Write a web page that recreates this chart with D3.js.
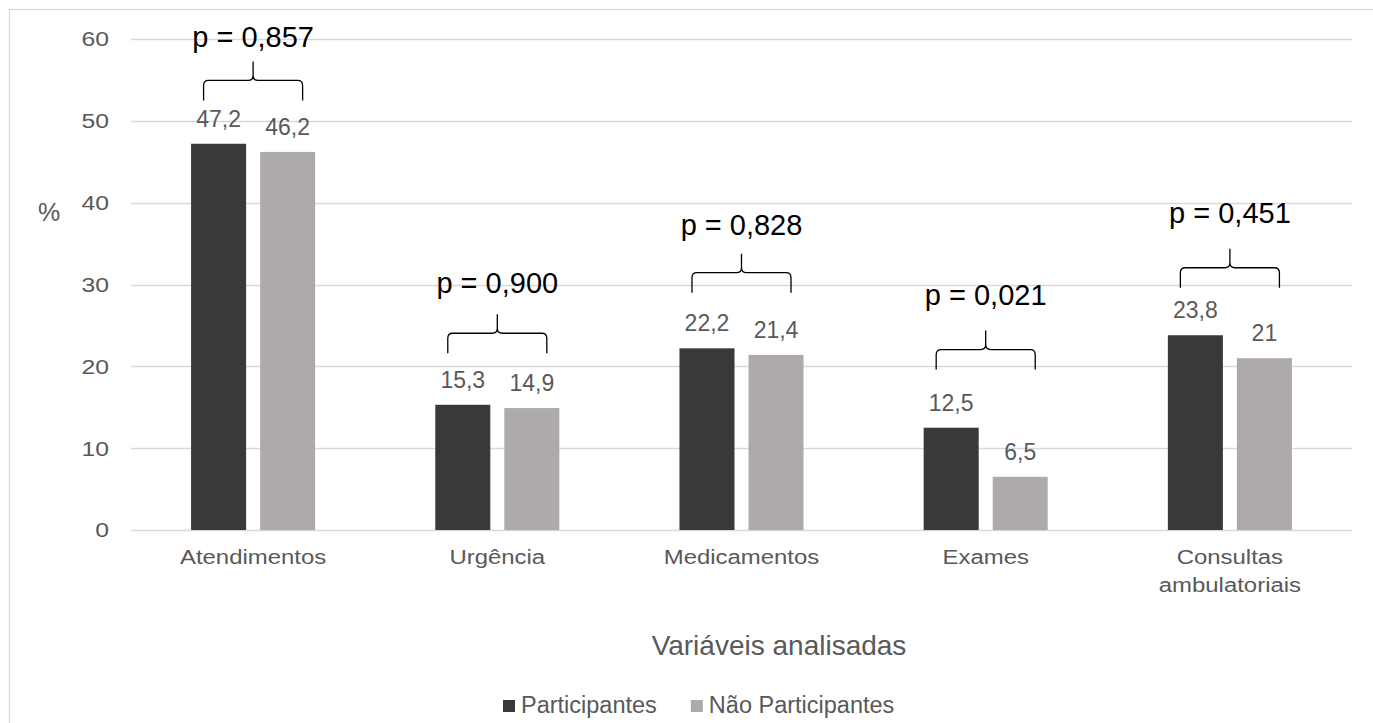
<!DOCTYPE html>
<html>
<head>
<meta charset="utf-8">
<script src="https://cdn.jsdelivr.net/npm/d3@7"></script>
<style>
  body { margin: 0; background: #fff; }
  svg { display: block; font-family: Arial, "Liberation Sans", sans-serif; }
</style>
</head>
<body>
<div id="chart"></div>
<script>
// data
const categories = ['Atendimentos', 'Urgência', 'Medicamentos', 'Exames', 'Consultas ambulatoriais'];
const categoryLines = [['Atendimentos'], ['Urgência'], ['Medicamentos'], ['Exames'], ['Consultas', 'ambulatoriais']];
const seriesNames = ['Participantes', 'Não Participantes'];
const participantes = [47.2, 15.3, 22.2, 12.5, 23.8];
const naoParticipantes = [46.2, 14.9, 21.4, 6.5, 21];
const pValues = ['p = 0,857', 'p = 0,900', 'p = 0,828', 'p = 0,021', 'p = 0,451'];
// brace foot level and p-label baseline level, in % units
const braceLevels = [52.5, 21.6, 29.0, 19.6, 29.6];
const pLabelLevels = [59.0, 29.0, 36.0, 27.5, 37.5];
const yTicks = [0, 10, 20, 30, 40, 50, 60];

const width = 1373, height = 723;
const plot = { left: 131, right: 1352, top: 39, bottom: 530 };
const colors = ['#3a3838', '#aeaaaa'];
const textColor = '#595959';
const gridColor = '#d9d9d9';

const svg = d3.select('#chart').append('svg')
  .attr('width', width)
  .attr('height', height);

// outer chart border (runs off right/bottom edge)
svg.append('rect')
  .attr('x', 9.5).attr('y', 9.5)
  .attr('width', 1420).attr('height', 800)
  .attr('fill', 'none').attr('stroke', gridColor).attr('stroke-width', 1.3);

const x = d3.scaleBand().domain(categories).range([plot.left, plot.right]);
const xInner = d3.scaleBand().domain(seriesNames).range([0, x.bandwidth()])
  .paddingInner(0.203).paddingOuter(0.87);
const y = d3.scaleLinear().domain([0, 60]).range([plot.bottom, plot.top]);

// gridlines
svg.append('g')
  .selectAll('line')
  .data(yTicks)
  .join('line')
  .attr('x1', plot.left).attr('x2', plot.right)
  .attr('y1', d => Math.round(y(d)) + 0.5).attr('y2', d => Math.round(y(d)) + 0.5)
  .attr('stroke', gridColor).attr('stroke-width', 1.5);

// y tick labels (slightly wide glyphs in the reference)
svg.append('g')
  .selectAll('text')
  .data(yTicks)
  .join('text')
  .attr('transform', d => `translate(${plot.left - 22},${y(d)}) scale(1.18,1)`)
  .attr('dy', '0.35em')
  .attr('text-anchor', 'end')
  .attr('font-size', 21)
  .attr('fill', textColor)
  .text(d => d);

svg.append('text')
  .attr('x', 49).attr('y', 221)
  .attr('text-anchor', 'middle')
  .attr('font-size', 25)
  .attr('fill', textColor)
  .text('%');

// bars
const rows = categories.map((c, i) => ({
  category: c,
  values: [participantes[i], naoParticipantes[i]]
}));

const groups = svg.append('g').selectAll('g')
  .data(rows)
  .join('g')
  .attr('transform', d => `translate(${x(d.category)},0)`);

groups.selectAll('rect')
  .data(d => d.values.map((v, j) => ({ series: seriesNames[j], value: v, j })))
  .join('rect')
  .attr('x', d => xInner(d.series))
  .attr('y', d => y(d.value))
  .attr('width', xInner.bandwidth())
  .attr('height', d => y(0) - y(d.value))
  .attr('fill', d => colors[d.j]);

groups.selectAll('text.val')
  .data(d => d.values.map((v, j) => ({ series: seriesNames[j], value: v })))
  .join('text')
  .attr('class', 'val')
  .attr('x', d => xInner(d.series) + xInner.bandwidth() / 2)
  .attr('y', d => y(d.value) - 17)
  .attr('text-anchor', 'middle')
  .attr('font-size', 23)
  .attr('fill', textColor)
  .text(d => String(d.value).replace('.', ','));

// category labels
svg.append('g').selectAll('g')
  .data(categories)
  .join('g')
  .each(function (c, i) {
    const g = d3.select(this);
    categoryLines[i].forEach((line, k) => {
      g.append('text')
        .attr('transform', `translate(${x(c) + x.bandwidth() / 2},${564 + k * 28}) scale(1.14,1)`)
        .attr('text-anchor', 'middle')
        .attr('font-size', 21)
        .attr('fill', textColor)
        .text(line);
    });
  });

// braces with p-values
function bracePath(xl, xr, yb, yt, ytip) {
  const r = 5;
  const xm = (xl + xr) / 2;
  return `M${xl},${yb} V${yt + r} Q${xl},${yt} ${xl + r},${yt} H${xm - r} Q${xm},${yt} ${xm},${yt - r} V${ytip}` +
    ` M${xm},${yt - r} Q${xm},${yt} ${xm + r},${yt} H${xr - r} Q${xr},${yt} ${xr},${yt + r} V${yb}`;
}

const ann = svg.append('g');
categories.forEach((c, i) => {
  const xl = x(c) + xInner(seriesNames[0]) + xInner.bandwidth() / 2 - 15;
  const xr = x(c) + xInner(seriesNames[1]) + xInner.bandwidth() / 2 + 15;
  const yb = y(braceLevels[i]);
  ann.append('path')
    .attr('d', bracePath(xl, xr, yb, yb - 20, yb - 39))
    .attr('fill', 'none')
    .attr('stroke', '#000')
    .attr('stroke-width', 1.3);
  ann.append('text')
    .attr('x', x(c) + x.bandwidth() / 2)
    .attr('y', y(pLabelLevels[i]))
    .attr('text-anchor', 'middle')
    .attr('font-size', 29)
    .attr('fill', '#000')
    .text(pValues[i]);
});

// axis title
svg.append('text')
  .attr('x', 779).attr('y', 655)
  .attr('text-anchor', 'middle')
  .attr('font-size', 28)
  .attr('fill', textColor)
  .text('Variáveis analisadas');

// legend
const legend = svg.append('g').attr('transform', 'translate(503,713)');
let cursor = 0;
seriesNames.forEach((name, j) => {
  const item = legend.append('g').attr('transform', `translate(${cursor},0)`);
  item.append('rect')
    .attr('x', 0).attr('y', -13)
    .attr('width', 12).attr('height', 12)
    .attr('fill', colors[j]);
  const t = item.append('text')
    .attr('x', 18).attr('y', 0)
    .attr('font-size', 23.5)
    .attr('fill', textColor)
    .text(name);
  cursor += 18 + t.node().getComputedTextLength() + 34;
});
</script>
</body>
</html>
